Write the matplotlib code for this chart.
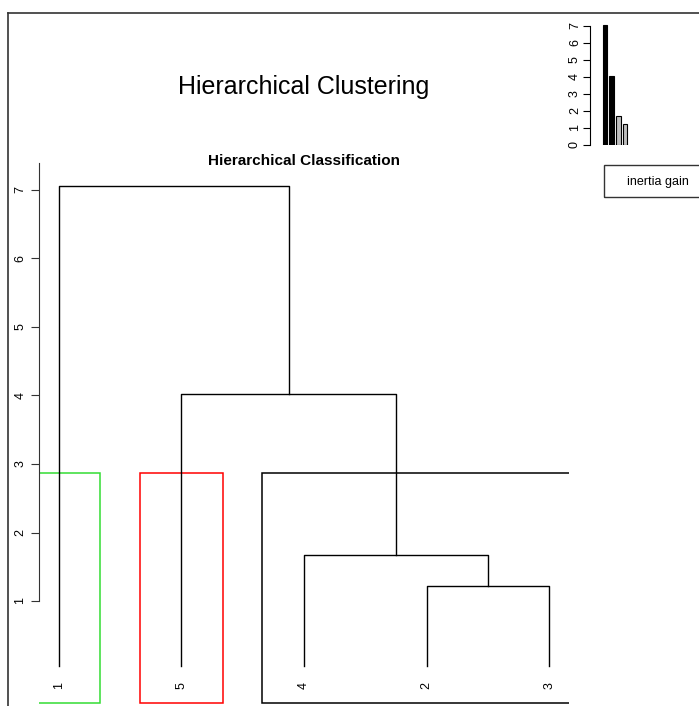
import matplotlib.pyplot as plt
from matplotlib.patches import Rectangle
from matplotlib.lines import Line2D

plt.rcParams['font.family'] = ['Liberation Sans', 'DejaVu Sans']

# leaf order along the dendrogram and merge structure
leaf_labels = ['1', '5', '4', '2', '3']
merge_pairs = [('2', '3'), ('4', 'A'), ('5', 'B'), ('1', 'C')]
merge_heights = [1.22, 1.67, 4.02, 7.06]
inertia_gain = [7.06, 4.02, 1.67, 1.22]
cut_height = 2.87
clusters = [['1'], ['5'], ['4', '2', '3']]
cluster_colors = ['#33dd33', '#ff0000', '#000000']

W, H = 699, 706
fig = plt.figure(figsize=(W / 100, H / 100), dpi=100)

# main dendrogram axes (pixel geometry of the plot region)
px_l, px_r, px_b, px_t = 39, 569, 704, 163
ax = fig.add_axes([px_l / W, 1 - px_b / H, (px_r - px_l) / W, (px_b - px_t) / H])
ax.set_xlim(0.84, 5.16)
y0, ppu = 669.5, 68.5
ax.set_ylim((y0 - px_b) / ppu, (y0 - px_t) / ppu)

pos = {lab: i + 1 for i, lab in enumerate(leaf_labels)}
height = {lab: 0.05 for lab in leaf_labels}
node_names = ['A', 'B', 'C', 'D']
for (a, b), h, name in zip(merge_pairs, merge_heights, node_names):
    xa, xb = pos[a], pos[b]
    ax.plot([xa, xa, xb, xb], [height[a], h, h, height[b]], color='black', lw=1)
    pos[name] = (xa + xb) / 2
    height[name] = h

for lab in leaf_labels:
    ax.text(pos[lab], -0.23, lab, rotation=90, ha='center', va='center', fontsize=9)

ybot = ax.get_ylim()[0] + 0.01
for members, col in zip(clusters, cluster_colors):
    xs = [pos[m] for m in members]
    r = Rectangle((min(xs) - 0.34, ybot), max(xs) - min(xs) + 0.68, cut_height - ybot,
                  fill=False, edgecolor=col, lw=1.1)
    ax.add_patch(r)

for s in ['top', 'right', 'bottom']:
    ax.spines[s].set_visible(False)
ax.spines['left'].set_bounds(1, ax.get_ylim()[1])
ax.spines['left'].set_color('#333333')
ax.set_xticks([])
ax.set_yticks(range(1, 8))
ax.tick_params(axis='y', length=6, pad=3, labelsize=9, colors='#333333', labelcolor='black')
for t in ax.get_yticklabels():
    t.set_rotation(90)
    t.set_va('center')

fig.text(304 / W, 1 - 161 / H, 'Hierarchical Classification', ha='center', va='center',
         fontsize=11, fontweight='bold')
fig.text(304 / W, 1 - 87 / H, 'Hierarchical Clustering', ha='center', va='center', fontsize=18)

# inset bar chart of inertia gains
bx_l, bx_r, by_b, by_t = 590, 640, 144.7, 24
bx = fig.add_axes([bx_l / W, 1 - by_b / H, (bx_r - bx_l) / W, (by_b - by_t) / H])
step = 6.7
bx.set_xlim(-(605 - bx_l) / step, 3 + (bx_r - 625) / step)
bx.set_ylim(0, (by_b - by_t) / 17)
bar_cols = ['black', 'black', '#bebebe', '#bebebe']
bx.bar(range(len(inertia_gain)), inertia_gain, width=0.72, color=bar_cols,
       edgecolor='black', lw=0.8)
for s in ['top', 'right', 'bottom']:
    bx.spines[s].set_visible(False)
bx.spines['left'].set_bounds(0, 7)
bx.set_xticks([])
bx.set_yticks(range(0, 8))
bx.tick_params(axis='y', length=5, pad=1.5, labelsize=9)
for t in bx.get_yticklabels():
    t.set_rotation(90)
    t.set_va('center')

# legend box
fig.patches.append(Rectangle((604 / W, 1 - 197 / H), 110 / W, 32 / H, fill=False,
                             edgecolor='#333333', lw=1, transform=fig.transFigure))
fig.text(658 / W, 1 - 182 / H, 'inertia gain', ha='center', va='center', fontsize=9)

# outer frame
fig.add_artist(Line2D([8 / W, 8 / W], [0, 1 - 13 / H], color='#333333', lw=1.2))
fig.add_artist(Line2D([8 / W, 1], [1 - 13 / H, 1 - 13 / H], color='#333333', lw=1.2))

fig.savefig('out.png', dpi=100)
